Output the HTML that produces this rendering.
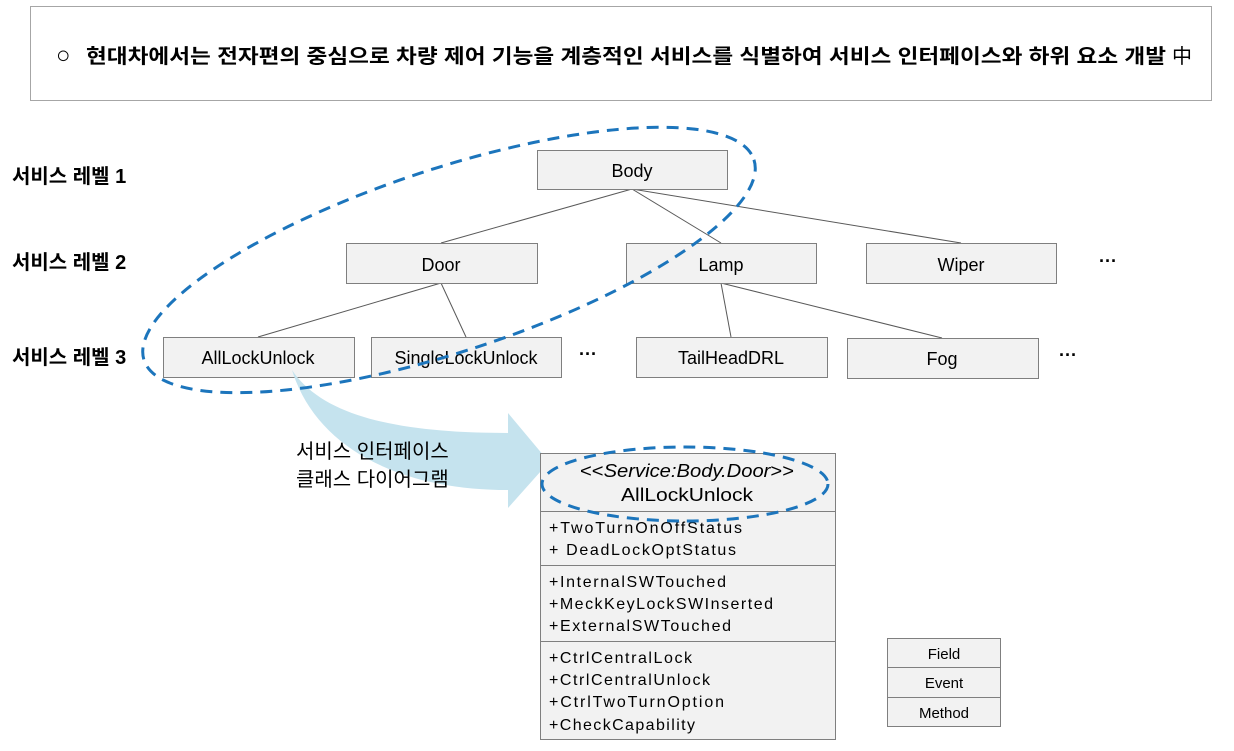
<!DOCTYPE html>
<html><head><meta charset="utf-8"><style>
html,body{margin:0;padding:0;background:#fff;width:1234px;height:751px;overflow:hidden}
svg{display:block}
text{font-family:"Liberation Sans","Noto Sans CJK KR",sans-serif;fill:#000}
</style></head><body>
<svg width="1234" height="751" viewBox="0 0 1234 751" xmlns="http://www.w3.org/2000/svg">
<rect x="30.5" y="6.5" width="1181" height="94" fill="#fff" stroke="#a6a6a6"/>
<text x="56" y="63" font-size="24" font-weight="bold">○</text>
<text x="86" y="63" font-size="20" font-weight="bold" textLength="1080" lengthAdjust="spacingAndGlyphs">현대차에서는 전자편의 중심으로 차량 제어 기능을 계층적인 서비스를 식별하여 서비스 인터페이스와 하위 요소 개발</text>
<text x="1172" y="63" font-size="20">中</text>

<g font-size="20" font-weight="bold">
<text x="12" y="183">서비스 레벨 1</text>
<text x="12" y="269">서비스 레벨 2</text>
<text x="12" y="364">서비스 레벨 3</text>
</g>

<g stroke="#595959" stroke-width="1">
<line x1="632" y1="189" x2="441" y2="243"/>
<line x1="632" y1="189" x2="721" y2="243"/>
<line x1="632" y1="189" x2="961" y2="243"/>
<line x1="441" y1="283" x2="258" y2="337"/>
<line x1="441" y1="283" x2="466" y2="337"/>
<line x1="721" y1="283" x2="731" y2="337"/>
<line x1="721" y1="283" x2="942" y2="338"/>
</g>

<g fill="#f2f2f2" stroke="#7f7f7f" stroke-width="1">
<rect x="537.5" y="150.5" width="190" height="39"/>
<rect x="346.5" y="243.5" width="191" height="40"/>
<rect x="626.5" y="243.5" width="190" height="40"/>
<rect x="866.5" y="243.5" width="190" height="40"/>
<rect x="163.5" y="337.5" width="191" height="40"/>
<rect x="371.5" y="337.5" width="190" height="40"/>
<rect x="636.5" y="337.5" width="191" height="40"/>
<rect x="847.5" y="338.5" width="191" height="40"/>
</g>
<g font-size="18" text-anchor="middle">
<text x="632" y="177">Body</text>
<text x="441" y="271">Door</text>
<text x="721" y="271">Lamp</text>
<text x="961" y="271">Wiper</text>
<text x="258" y="364">AllLockUnlock</text>
<text x="466" y="364">SingleLockUnlock</text>
<text x="731" y="364">TailHeadDRL</text>
<text x="942" y="365">Fog</text>
</g>
<g font-size="18" font-weight="bold">
<text x="1099" y="267">···</text>
<text x="579" y="360">···</text>
<text x="1059" y="361">···</text>
</g>

<path d="M292,370 C325,420 410,433 508,433 L508,413 L549,462 L508,508 L508,490 C395,490 315,445 292,370 Z" fill="#c5e3ee"/>
<g font-size="20"><text x="296" y="458">서비스 인터페이스</text><text x="296" y="486">클래스 다이어그램</text></g>

<ellipse cx="449" cy="260" rx="321" ry="91.5" transform="rotate(-18.2 449 260)" fill="none" stroke="#1c75bc" stroke-width="3" stroke-dasharray="12 8"/>

<rect x="540.5" y="453.5" width="295" height="286" fill="#f2f2f2" stroke="#7f7f7f"/>
<g stroke="#7f7f7f"><line x1="540" y1="511.5" x2="835" y2="511.5"/><line x1="540" y1="565.5" x2="835" y2="565.5"/><line x1="540" y1="641.5" x2="835" y2="641.5"/></g>
<text x="580" y="477" font-size="18" textLength="214" lengthAdjust="spacingAndGlyphs">&lt;&lt;<tspan font-style="italic">Service:Body.Door</tspan>&gt;&gt;</text>
<text x="687" y="501" font-size="18" text-anchor="middle" textLength="132" lengthAdjust="spacingAndGlyphs">AllLockUnlock</text>
<g font-size="16" lengthAdjust="spacingAndGlyphs">
<text x="549" y="533" textLength="193">+TwoTurnOnOffStatus</text>
<text x="549" y="555" textLength="187">+ DeadLockOptStatus</text>
<text x="549" y="587" textLength="177">+InternalSWTouched</text>
<text x="549" y="609" textLength="224">+MeckKeyLockSWInserted</text>
<text x="549" y="631" textLength="182">+ExternalSWTouched</text>
<text x="549" y="663" textLength="143">+CtrlCentralLock</text>
<text x="549" y="685" textLength="161">+CtrlCentralUnlock</text>
<text x="549" y="707" textLength="175">+CtrlTwoTurnOption</text>
<text x="549" y="730" textLength="146">+CheckCapability</text>
</g>
<ellipse cx="685" cy="484" rx="143" ry="37" fill="none" stroke="#1c75bc" stroke-width="3" stroke-dasharray="12 8"/>

<rect x="887.5" y="638.5" width="113" height="88" fill="#f2f2f2" stroke="#7f7f7f"/>
<g stroke="#7f7f7f"><line x1="887" y1="667.5" x2="1001" y2="667.5"/><line x1="887" y1="697.5" x2="1001" y2="697.5"/></g>
<g font-size="15" text-anchor="middle">
<text x="944" y="659">Field</text>
<text x="944" y="688">Event</text>
<text x="944" y="718">Method</text>
</g>
</svg>
</body></html>
